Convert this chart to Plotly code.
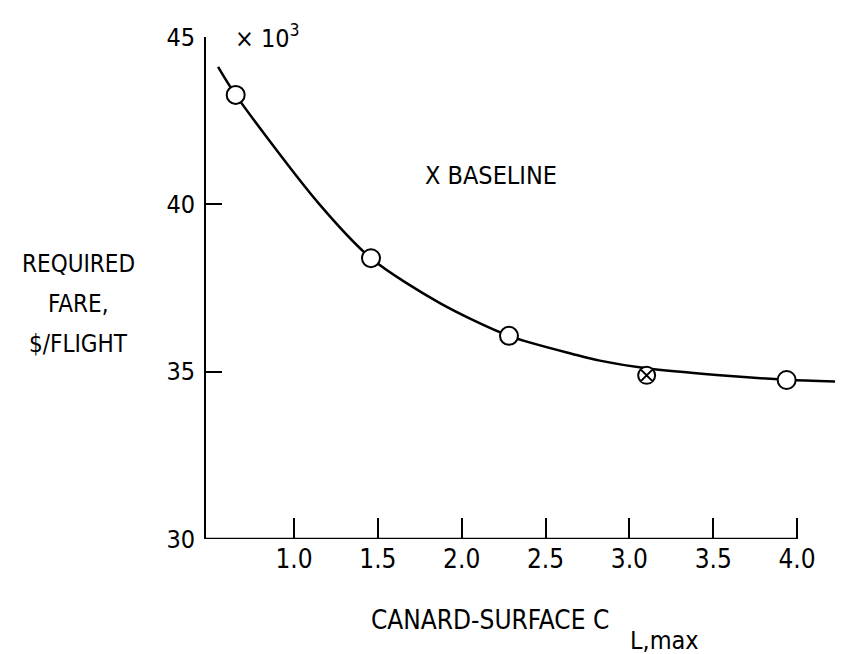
import plotly.graph_objects as go

# data
curve_x = [0.547, 0.652, 1.143, 1.459, 1.870, 2.282, 2.685, 2.824, 3.103, 3.520, 3.938, 4.274]
curve_y = [44.11, 43.27, 40.05, 38.39, 37.05, 36.07, 35.50, 35.33, 35.10, 34.90, 34.76, 34.70]
pts_x = [0.652, 1.459, 2.282, 3.938]
pts_y = [43.27, 38.39, 36.07, 34.75]
base_x = [3.103]
base_y = [34.89]
xticks = [1.0, 1.5, 2.0, 2.5, 3.0, 3.5, 4.0]
xticklabels = ["1.0", "1.5", "2.0", "2.5", "3.0", "3.5", "4.0"]
yticks = [30, 35, 40, 45]
yticklabels = ["30", "35", "40", "45"]

FONT = "Liberation Sans Narrow, DejaVu Sans Condensed, Arial Narrow, sans-serif"

# page offset (body margin 8px) compensated in figure geometry
W, H = 835, 646
L, R, T, B = 198, 0, 29, 115
PW, PH = W - L - R, H - T - B


def px(page_x):
    return (page_x - 8 - L) / PW


def py(page_y):
    return (H - B - (page_y - 8)) / PH


fig = go.Figure()
fig.add_trace(go.Scatter(x=curve_x, y=curve_y, mode="lines",
                         line=dict(color="black", width=2.5, shape="spline", smoothing=0.8),
                         hoverinfo="skip"))
fig.add_trace(go.Scatter(x=pts_x, y=pts_y, mode="markers",
                         marker=dict(symbol="circle", size=18, color="white",
                                     line=dict(color="black", width=2))))
fig.add_trace(go.Scatter(x=base_x, y=base_y, mode="markers",
                         marker=dict(symbol="circle-x", size=17, color="white",
                                     line=dict(color="black", width=2))))

fig.update_layout(
    width=W, height=H,
    margin=dict(l=L, r=R, t=T, b=B, autoexpand=False),
    paper_bgcolor="white", plot_bgcolor="white",
    showlegend=False,
    font=dict(family=FONT, size=26, color="black"),
    xaxis=dict(range=[0.475, 4.274], showgrid=False, zeroline=False, showline=False,
               tickmode="array", tickvals=xticks, ticktext=xticklabels,
               ticks="inside", ticklen=21, tickwidth=1.5, tickcolor="black",
               ticklabelstandoff=2, tickfont=dict(size=26)),
    yaxis=dict(range=[30, 45], showgrid=False, zeroline=False, showline=True,
               linecolor="black", linewidth=2,
               tickmode="array", tickvals=yticks, ticktext=yticklabels,
               ticks="inside", ticklen=16, tickwidth=1.5, tickcolor="black",
               ticklabelstandoff=4, tickfont=dict(size=25)),
)

# x-axis line stops at 4.0
fig.add_shape(type="line", xref="x", yref="y", x0=0.475, x1=4.0, y0=30, y1=30,
              line=dict(color="black", width=2.5))

fig.add_annotation(text="× 10<sup>3</sup>", xref="paper", yref="paper",
                   x=px(233), y=py(36), xanchor="left", yanchor="middle",
                   showarrow=False, font=dict(size=25, family=FONT))
fig.add_annotation(text="X BASELINE", xref="paper", yref="paper", x=px(491), y=py(175),
                   xanchor="center", yanchor="middle",
                   showarrow=False, font=dict(size=25, family=FONT))
for txt, yy in [("REQUIRED", 264), ("FARE,", 304), ("$/FLIGHT", 344)]:
    fig.add_annotation(text=txt, xref="paper", yref="paper", x=px(78), y=py(yy),
                       xanchor="center", yanchor="middle", showarrow=False,
                       font=dict(size=24, family=FONT))
fig.add_annotation(text="CANARD-SURFACE C", xref="paper", yref="paper",
                   x=px(369), y=py(620), xanchor="left", yanchor="middle",
                   showarrow=False, font=dict(size=26, family=FONT))
fig.add_annotation(text="L,max", xref="paper", yref="paper",
                   x=px(628), y=py(640), xanchor="left", yanchor="middle",
                   showarrow=False, font=dict(size=25, family=FONT))

fig.write_html("out.html")
